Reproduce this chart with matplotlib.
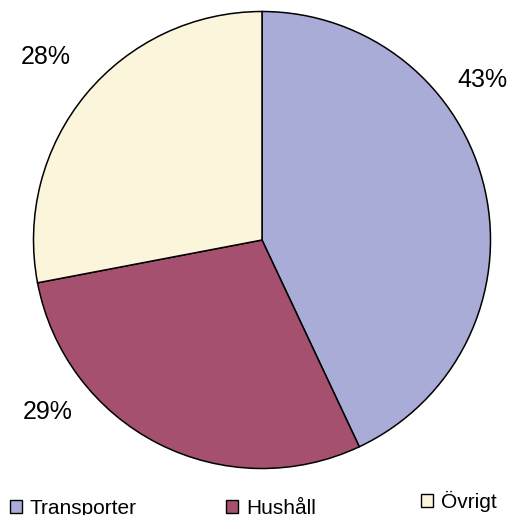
import matplotlib
matplotlib.use("Agg")
import matplotlib.pyplot as plt

categories = ["Transporter", "Hushåll", "Övrigt"]
values = [43, 29, 28]
labels = ["43%", "29%", "28%"]
colors = ["#A9ACD6", "#A5506F", "#FAF5DB"]

plt.rcParams['font.family'] = ['Liberation Sans', 'DejaVu Sans']

W = H = 515
fig = plt.figure(figsize=(5.15, 5.15), dpi=100)
ax = fig.add_axes([0, 0, 1, 1])

cx, cy, r = 262, H - 240, 228.5
wedges, _ = ax.pie(values, colors=colors, startangle=90, counterclock=False,
                   center=(cx, cy), radius=r, frame=True,
                   wedgeprops=dict(edgecolor='black', linewidth=1.1))
ax.set_xlim(0, W)
ax.set_ylim(0, H)
ax.set_aspect('equal')
ax.axis('off')

label_pos = [(482, 80), (48, 412), (46, 57)]
for lab, (x, y) in zip(labels, label_pos):
    ax.text(x, H - y, lab, fontsize=18, ha='center', va='center', color='black')

leg_pos = [(10, 508), (226, 508), (421, 501)]
for w, name, (x, y) in zip(wedges, categories, leg_pos):
    leg = fig.legend([w], [name], loc='center left',
                     bbox_to_anchor=(x / W, (H - y) / H), bbox_transform=fig.transFigure,
                     frameon=False, fontsize=15, borderpad=0, borderaxespad=0,
                     handlelength=0.58, handleheight=0.58, handletextpad=0.38)
    leg.legend_handles[0].set_linewidth(1.0)

fig.savefig("out.png", dpi=100)
